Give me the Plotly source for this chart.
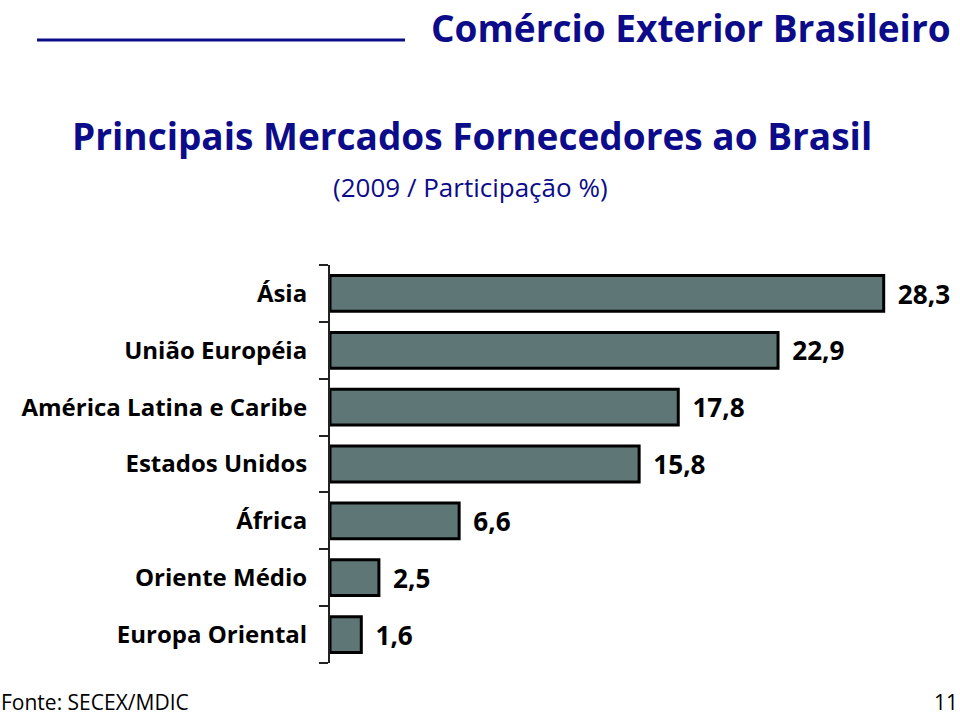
import plotly.graph_objects as go

categories = ["Ásia", "União Européia", "América Latina e Caribe", "Estados Unidos",
              "África", "Oriente Médio", "Europa Oriental"]
values = [28.3, 22.9, 17.8, 15.8, 6.6, 2.5, 1.6]

NAVY = "#0c0c8a"
FONT = "Open Sans"

L, R, T, B = 330, 0, 265, 55
W, H = 960, 718
PW, PH = W - L - R, H - T - B

def px(x):
    return (x - L) / PW

def py(y):
    return (H - B - y) / PH

fig = go.Figure(go.Bar(
    x=values, y=categories, orientation="h",
    marker=dict(color="#5f7676", line=dict(color="black", width=3)),
    texttemplate=" \u2009%{x:.1f}", textposition="outside", cliponaxis=False,
    textfont=dict(family=FONT, size=27, color="black", weight="bold"),
    width=0.63,
))

fig.update_layout(
    width=W, height=H,
    margin=dict(l=L, r=R, t=T, b=B),
    plot_bgcolor="white", paper_bgcolor="white",
    separators=",.",
    showlegend=False,
    xaxis=dict(range=[0, 32.2], visible=False),
    yaxis=dict(
        categoryorder="array", categoryarray=categories[::-1],
        showline=True, linecolor="#222", linewidth=2,
        ticks="outside", tickson="boundaries", ticklen=9, tickwidth=2, tickcolor="#222",
        ticklabelstandoff=16,
        tickfont=dict(family=FONT, size=24, color="black", weight="bold"),
        showgrid=False,
    ),
)

annos = [
    ("Comércio Exterior Brasileiro", 952, 1, "right", "top",
     dict(family=FONT, size=37, color=NAVY, weight="bold")),
    ("Principais Mercados Fornecedores ao Brasil", 472, 135, "center", "middle",
     dict(family=FONT, size=37, color=NAVY, weight="bold")),
    ("(2009 / Participação %)", 470, 187, "center", "middle",
     dict(family=FONT, size=26, color=NAVY)),
    ("Fonte: SECEX/MDIC", 0, 717, "left", "bottom",
     dict(family=FONT, size=21, color="black")),
    ("11", 959, 717, "right", "bottom",
     dict(family=FONT, size=21, color="black")),
]
for text, x, y, xa, ya, f in annos:
    fig.add_annotation(text=text, x=px(x), y=py(y), xref="paper", yref="paper",
                       xanchor=xa, yanchor=ya, showarrow=False, font=f,
                       borderpad=0)

fig.add_shape(type="line", xref="paper", yref="paper",
              x0=px(37), x1=px(405), y0=py(40), y1=py(40),
              line=dict(color=NAVY, width=3))

fig.write_html("out.html")
